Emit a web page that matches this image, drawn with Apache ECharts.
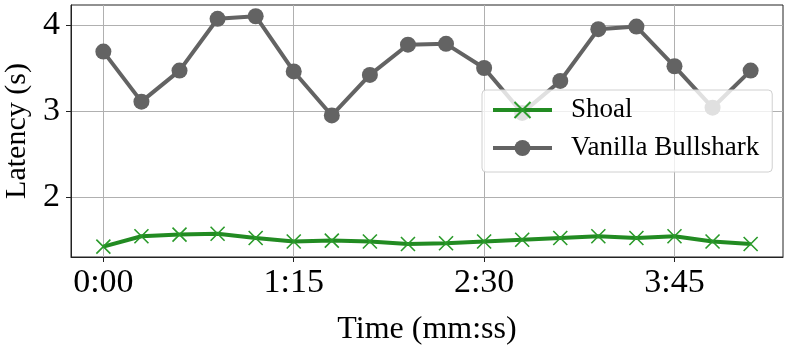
<!DOCTYPE html>
<html>
<head>
<meta charset="utf-8">
<script src="https://cdn.jsdelivr.net/npm/echarts@6/dist/echarts.min.js"></script>
<style>
  html, body { margin: 0; padding: 0; background: #fff; }
  #chart { width: 789px; height: 345px; }
</style>
</head>
<body>
<div id="chart"></div>
<script>
// seconds since start, one sample every 15 s
var times = [0, 15, 30, 45, 60, 75, 90, 105, 120, 135, 150, 165, 180, 195, 210, 225, 240, 255];
var shoal = [1.43, 1.55, 1.57, 1.58, 1.53, 1.49, 1.50, 1.49, 1.46, 1.47, 1.49, 1.51, 1.53, 1.55, 1.53, 1.55, 1.49, 1.46];
var bullshark = [3.69, 3.11, 3.47, 4.07, 4.10, 3.46, 2.95, 3.42, 3.77, 3.78, 3.50, 2.98, 3.35, 3.95, 3.98, 3.52, 3.04, 3.47];
var xTicks = [0, 75, 150, 225];
var yTicks = [2, 3, 4];

var font = '"Liberation Serif", "DejaVu Serif", serif';
var frame = '#222';

function mmss(s) {
    var m = Math.floor(s / 60);
    var r = Math.round(s % 60);
    return m + ':' + (r < 10 ? '0' + r : r);
}

function pairs(vals) {
    return vals.map(function (v, i) { return [times[i], v]; });
}

var myChart = echarts.init(document.getElementById('chart'));
var option = {
    animation: false,
    backgroundColor: '#fff',
    grid: {
        left: 71, top: 5, right: 6, bottom: 88,
        containLabel: false,
        outerBoundsMode: 'none',
        show: true, borderColor: frame, borderWidth: 1
    },
    legend: {
        orient: 'vertical',
        left: 482, top: 90,
        padding: [5, 13, 9, 9],
        itemWidth: 59, itemHeight: 20, itemGap: 8,
        backgroundColor: 'rgba(255,255,255,0.8)',
        borderColor: '#d0d0d0', borderWidth: 1, borderRadius: 4,
        lineStyle: { width: 4 },
        textStyle: { fontFamily: font, fontSize: 27, color: '#000', lineHeight: 30, padding: [0, 0, 0, 14] },
        data: ['Shoal', 'Vanilla Bullshark']
    },
    xAxis: {
        type: 'value',
        min: -12.75, max: 267.75,
        name: 'Time (mm:ss)',
        nameLocation: 'middle',
        nameGap: 57,
        nameTextStyle: { fontFamily: font, fontSize: 32, color: '#000' },
        axisLine: { onZero: false, lineStyle: { color: frame, width: 1 } },
        axisTick: { show: true, inside: false, length: 5, customValues: xTicks, lineStyle: { color: frame } },
        axisLabel: {
            customValues: xTicks, margin: 9,
            fontFamily: font, fontSize: 34, color: '#000',
            formatter: function (v) { return mmss(v); }
        },
        splitLine: { show: true, lineStyle: { color: '#b0b0b0', width: 1 } }
    },
    yAxis: {
        type: 'value',
        min: 1.31, max: 4.23,
        name: 'Latency (s)',
        nameLocation: 'middle',
        nameGap: 36,
        nameTextStyle: { fontFamily: font, fontSize: 30, color: '#000' },
        axisLine: { show: true, onZero: false, lineStyle: { color: frame, width: 1 } },
        axisTick: { show: true, inside: false, length: 5, customValues: yTicks, lineStyle: { color: frame } },
        axisLabel: {
            customValues: yTicks, margin: 11,
            fontFamily: font, fontSize: 34, color: '#000'
        },
        splitLine: { show: true, lineStyle: { color: '#b0b0b0', width: 1 } }
    },
    series: [
        {
            name: 'Shoal',
            type: 'line',
            data: pairs(shoal),
            lineStyle: { color: '#228b22', width: 4 },
            symbol: 'path://M0,0L10,10M10,0L0,10',
            symbolSize: 14,
            itemStyle: { color: '#2a9a2a', borderColor: '#2a9a2a', borderWidth: 1.6 },
            z: 3
        },
        {
            name: 'Vanilla Bullshark',
            type: 'line',
            data: pairs(bullshark),
            lineStyle: { color: '#636363', width: 4 },
            symbol: 'circle',
            symbolSize: 16,
            itemStyle: { color: '#636363', borderWidth: 0 },
            z: 2
        }
    ]
};
myChart.setOption(option);
</script>
</body>
</html>
